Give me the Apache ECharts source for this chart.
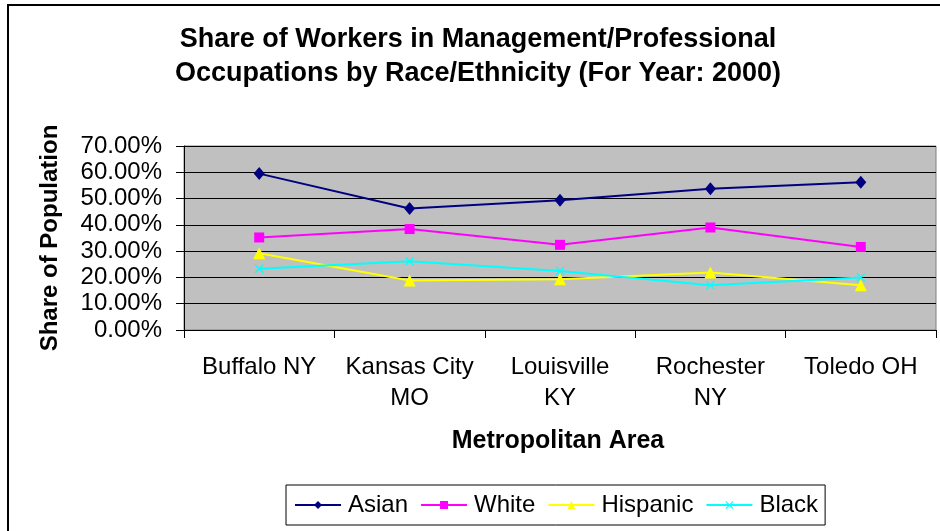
<!DOCTYPE html>
<html>
<head>
<meta charset="utf-8">
<script src="https://cdn.jsdelivr.net/npm/echarts@6/dist/echarts.min.js"></script>
<style>
  html, body { margin: 0; padding: 0; background: #fff; }
  #chart { width: 940px; height: 531px; }
</style>
</head>
<body>
<div id="chart"></div>
<script>
// data (percent)
var areas = ["Buffalo NY", "Kansas City\nMO", "Louisville\nKY", "Rochester\nNY", "Toledo OH"];
var asian = [59.5, 46.2, 49.4, 53.7, 56.2];
var white = [35.2, 38.4, 32.4, 39.0, 31.6];
var hispanic = [29.2, 18.8, 19.3, 21.9, 17.0];
var black = [23.3, 26.2, 22.4, 17.0, 20.0];
var yTicks = { min: 0, max: 70, step: 10 };

var font = "Liberation Sans, Arial, sans-serif";
var xMark = "path://M0,1L1,0L5,4L9,0L10,1L6,5L10,9L9,10L5,6L1,10L0,9L4,5Z";

var chart = echarts.init(document.getElementById("chart"));

function makeSeries(name, data, color, symbol, size) {
  return {
    name: name,
    type: "line",
    data: data,
    symbol: symbol,
    symbolSize: size,
    showSymbol: true,
    lineStyle: { color: color, width: 2 },
    itemStyle: { color: color },
    emphasis: { disabled: true },
    z: 3
  };
}

var option = {
  animation: false,
  backgroundColor: "#fff",
  grid: {
    left: 184,
    top: 146,
    right: 4,
    height: 184,
    show: true,
    backgroundColor: "#c0c0c0",
    borderColor: "#808080",
    borderWidth: 1
  },
  legend: {
    left: 286,
    top: 485,
    padding: [8, 7, 8, 8],
    borderColor: "#000",
    borderWidth: 1,
    itemWidth: 46,
    itemHeight: 10,
    itemGap: 12,
    textStyle: { fontFamily: font, fontSize: 24, color: "#000", padding: [0, 0, 0, 2] },
    data: ["Asian", "White", "Hispanic", "Black"]
  },
  xAxis: {
    type: "category",
    data: areas,
    boundaryGap: true,
    axisLine: { lineStyle: { color: "#000", width: 1 } },
    axisTick: { show: true, length: 8, lineStyle: { color: "#000" } },
    axisLabel: {
      fontFamily: font,
      fontSize: 24,
      color: "#000",
      lineHeight: 31,
      margin: 22,
      interval: 0
    },
    splitLine: { show: false }
  },
  yAxis: {
    type: "value",
    min: yTicks.min,
    max: yTicks.max,
    interval: yTicks.step,
    axisLine: { show: true, lineStyle: { color: "#000", width: 1 } },
    axisTick: { show: true, length: 8, lineStyle: { color: "#000" } },
    axisLabel: {
      fontFamily: font,
      fontSize: 24,
      color: "#000",
      margin: 22,
      formatter: function (v) { return v.toFixed(2) + "%"; }
    },
    splitLine: { show: true, lineStyle: { color: "#000", width: 1.2 } }
  },
  graphic: [
    {
      type: "rect",
      shape: { x: 8, y: 5, width: 1000, height: 600 },
      style: { fill: "none", stroke: "#000", lineWidth: 2 },
      silent: true
    },
    {
      type: "text",
      x: 478,
      y: 57,
      style: {
        text: "Share of Workers in Management/Professional\nOccupations by Race/Ethnicity (For Year: 2000)",
        font: "bold 27px " + font,
        fill: "#000",
        align: "center",
        verticalAlign: "middle",
        lineHeight: 34
      }
    },
    {
      type: "text",
      x: 50,
      y: 238,
      rotation: Math.PI / 2,
      style: {
        text: "Share of Population",
        font: "bold 24px " + font,
        fill: "#000",
        align: "center",
        verticalAlign: "middle"
      }
    },
    {
      type: "text",
      x: 558,
      y: 441,
      style: {
        text: "Metropolitan Area",
        font: "bold 25px " + font,
        fill: "#000",
        align: "center",
        verticalAlign: "middle"
      }
    }
  ],
  series: [
    makeSeries("Asian", asian, "#000080", "diamond", [11, 13]),
    makeSeries("White", white, "#ff00ff", "rect", 10),
    makeSeries("Hispanic", hispanic, "#ffff00", "triangle", 12),
    makeSeries("Black", black, "#00ffff", xMark, 9)
  ]
};

chart.setOption(option);
</script>
</body>
</html>
